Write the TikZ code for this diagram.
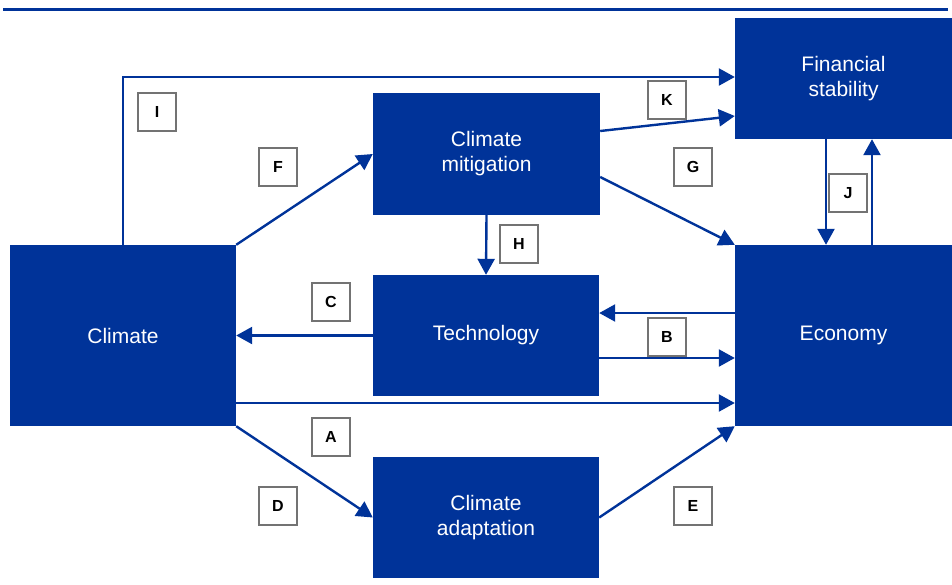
\documentclass[tikz,border=0pt]{standalone}
\usepackage{fontspec}
\setmainfont{Liberation Sans}
\usetikzlibrary{arrows.meta}
\definecolor{ecb}{RGB}{0,51,153}
\begin{document}
\begin{tikzpicture}[x=1pt,y=-1pt,
  blk/.style={fill=ecb,draw=none,text=white,align=center,font=\fontsize{21}{25}\selectfont,inner sep=0pt},
  lbl/.style={draw=black!55,line width=1.2pt,fill=white,minimum width=38pt,minimum height=38pt,inner sep=0pt,font=\fontsize{16}{18}\selectfont\bfseries},
  arr/.style={draw=ecb,line width=2.4pt,-{Triangle[length=16pt,width=17pt]}},
  ln/.style={draw=ecb,line width=2.4pt}]
\useasboundingbox (0,0) rectangle (952,584);
\draw[ecb,line width=3pt] (3,9) -- (948,9);
% boxes
\node[blk,minimum width=217pt,minimum height=121pt] (fin) at (843.5,78.5) {Financial\\stability};
\node[blk,minimum width=227pt,minimum height=122pt] (mit) at (486.5,154) {Climate\\mitigation};
\node[blk,minimum width=226pt,minimum height=181pt] (cli) at (123,335.5) {Climate};
\node[blk,minimum width=226pt,minimum height=121pt] (tec) at (486,335.5) {Technology};
\node[blk,minimum width=217pt,minimum height=181pt] (eco) at (843.5,335.5) {Economy};
\node[blk,minimum width=226pt,minimum height=121pt] (ada) at (486,517.5) {Climate\\adaptation};
% coordinates
\coordinate (ctop) at (123,245);
\coordinate (ccorner) at (123,77);
% arrows
\draw[arr] (ctop) -- (ccorner) -- (fin.west |- ccorner);
\draw[arr] (mit.east |- 0,131) -- (fin.west |- 0,116);
\draw[arr] (cli.north east) -- (mit.west);
\draw[arr] (mit.east |- 0,177) -- (eco.north west);
\draw[arr] (mit.south) -- (tec.north);
\draw[arr] (fin.south -| 826,0) -- (eco.north -| 826,0);
\draw[arr] (eco.north -| 872,0) -- (fin.south -| 872,0);
\draw[arr] (tec.west) -- (cli.east);
\draw[arr] (eco.west |- 0,313) -- (tec.east |- 0,313);
\draw[arr] (tec.east |- 0,358) -- (eco.west |- 0,358);
\draw[arr] (cli.east |- 0,403) -- (eco.west |- 0,403);
\draw[arr] (cli.south east) -- (ada.west);
\draw[arr] (ada.east) -- (eco.south west);
% labels
\node[lbl] (lI) at (157,112) {I};
\node[lbl] (lF) at (278,167) {F};
\node[lbl] (lK) at (667,100) {K};
\node[lbl] (lG) at (693,167) {G};
\node[lbl] (lH) at (519,244) {H};
\node[lbl] (lJ) at (848,193) {J};
\node[lbl] (lC) at (331,302) {C};
\node[lbl] (lB) at (667,337) {B};
\node[lbl] (lA) at (331,437) {A};
\node[lbl] (lD) at (278,506) {D};
\node[lbl] (lE) at (693,506) {E};
\end{tikzpicture}
\end{document}
